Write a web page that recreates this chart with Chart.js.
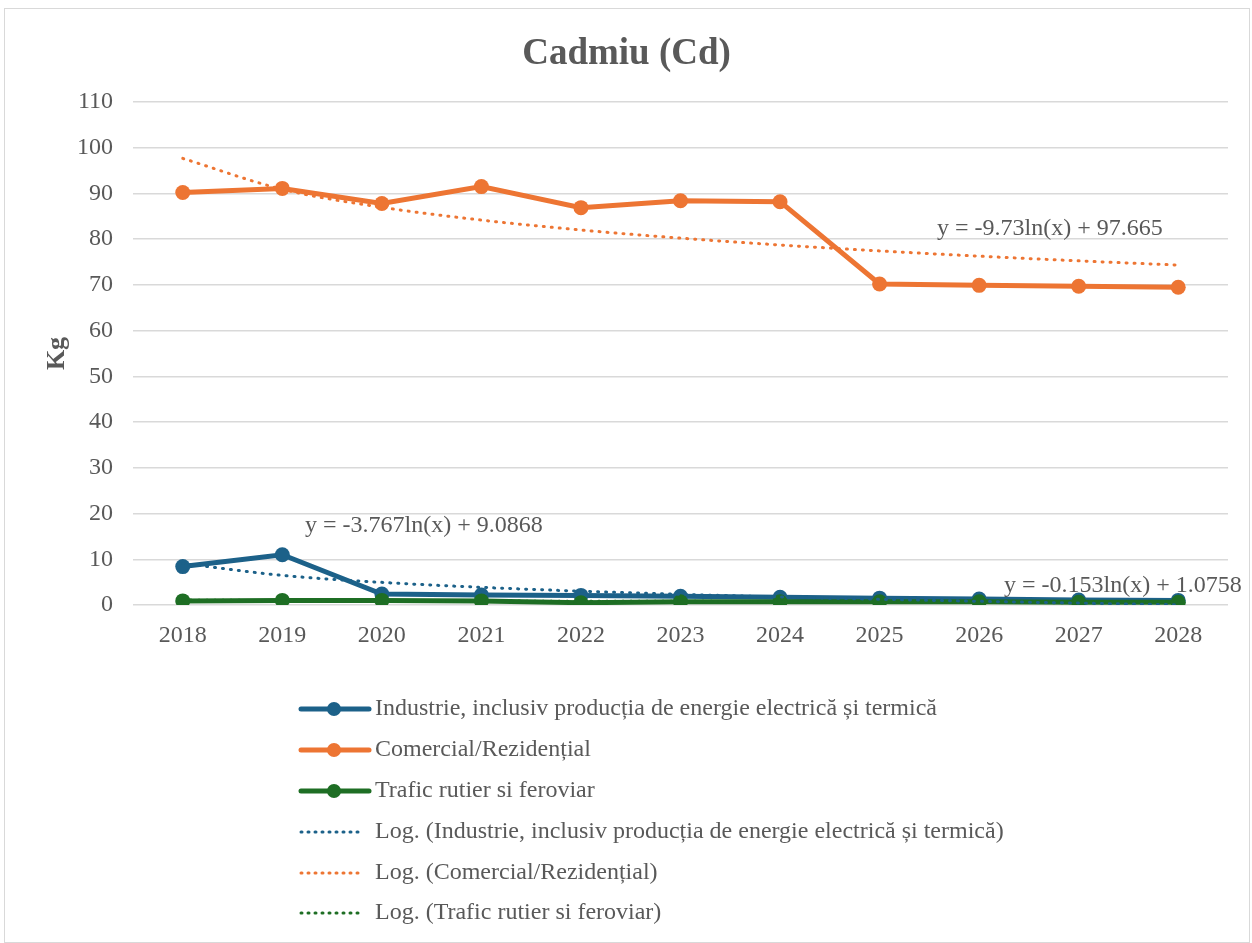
<!DOCTYPE html>
<html>
<head>
<meta charset="utf-8">
<script src="https://cdn.jsdelivr.net/npm/chart.js@4.4.1/dist/chart.umd.min.js"></script>
<style>
  html, body { margin: 0; padding: 0; background: #ffffff; }
  #wrap { position: absolute; left: 4px; top: 8px; width: 1244px; height: 933px; border: 1px solid #d9d9d9; background: #fff; }
  canvas { display: block; }
</style>
</head>
<body>
<div id="wrap"><canvas id="c" width="1244" height="933" style="width:1244px;height:933px"></canvas></div>
<script>
// ---- Data ----
const years = ["2018","2019","2020","2021","2022","2023","2024","2025","2026","2027","2028"];
const industrie = [8.4, 11.0, 2.4, 2.2, 2.1, 1.9, 1.7, 1.5, 1.3, 1.1, 1.0];
const comercial = [90.2, 91.1, 87.8, 91.5, 86.9, 88.4, 88.2, 70.2, 69.9, 69.7, 69.5];
const trafic = [0.9, 1.0, 1.0, 0.9, 0.5, 0.7, 0.7, 0.7, 0.7, 0.6, 0.6];
// logarithmic trendline coefficients shown on the chart: y = a ln(x) + b
const industrieTrendCoef = [-3.767, 9.0868];
const comercialTrendCoef = [-9.73, 97.665];
const traficTrendCoef = [-0.153, 1.0758];
const yTicks = [0, 10, 20, 30, 40, 50, 60, 70, 80, 90, 100, 110];

const labelsText = [
  "Industrie, inclusiv producția de energie electrică și termică",
  "Comercial/Rezidențial",
  "Trafic rutier si feroviar",
  "Log. (Industrie, inclusiv producția de energie electrică și termică)",
  "Log. (Comercial/Rezidențial)",
  "Log. (Trafic rutier si feroviar)"
];
const eqTexts = ["y = -3.767ln(x) + 9.0868", "y = -9.73ln(x) + 97.665", "y = -0.153ln(x) + 1.0758"];

const BLUE = "#1c6189", ORANGE = "#ed7533", GREEN = "#1e6e24", TXT = "#595959";
const FONT = "'Liberation Serif', 'Times New Roman', serif";

function trend(coef) { return years.map((_, i) => coef[0] * Math.log(i + 1) + coef[1]); }

function seriesDs(label, data, color, order) {
  return { label, data, borderColor: color, backgroundColor: color, borderWidth: 5,
    pointRadius: 7.5, pointHoverRadius: 7.5, pointBorderWidth: 0, pointBackgroundColor: color,
    tension: 0, order, isTrend: false };
}
function trendDs(label, data, color) {
  return { label, data, borderColor: color, backgroundColor: color, borderWidth: 3,
    borderDash: [1, 7], borderCapStyle: 'round', pointRadius: 0, cubicInterpolationMode: 'monotone',
    order: 0, isTrend: true };
}

const overlay = {
  id: 'overlay',
  afterDraw(chart) {
    const ctx = chart.ctx;
    ctx.save();
    ctx.fillStyle = TXT;
    ctx.font = "24px " + FONT;
    ctx.textBaseline = 'middle';
    ctx.textAlign = 'left';
    // trendline equations
    ctx.fillText(eqTexts[0], 300, 517);
    ctx.fillText(eqTexts[1], 932, 220);
    ctx.fillText(eqTexts[2], 999, 577);
    // legend
    const x0 = 294, x1 = 364, tx = 370;
    const rows = [700, 741, 782, 823, 864, 904];
    chart.data.datasets.forEach((ds, i) => {
      const y = rows[i];
      ctx.save();
      ctx.strokeStyle = ds.borderColor;
      if (ds.isTrend) {
        ctx.lineWidth = 3; ctx.lineCap = 'round'; ctx.setLineDash([1, 6]);
        ctx.beginPath(); ctx.moveTo(x0 + 2, y); ctx.lineTo(x1 - 6, y); ctx.stroke();
      } else {
        ctx.lineWidth = 5; ctx.lineCap = 'round';
        ctx.beginPath(); ctx.moveTo(x0 + 2, y); ctx.lineTo(x1, y); ctx.stroke();
        ctx.fillStyle = ds.borderColor;
        ctx.beginPath(); ctx.arc(329, y, 7, 0, Math.PI * 2); ctx.fill();
      }
      ctx.restore();
      ctx.fillText(ds.label, tx, y);
    });
    ctx.restore();
  }
};

new Chart(document.getElementById('c'), {
  type: 'line',
  data: {
    labels: years,
    datasets: [
      seriesDs(labelsText[0], industrie, BLUE, 3),
      seriesDs(labelsText[1], comercial, ORANGE, 2),
      seriesDs(labelsText[2], trafic, GREEN, 1),
      trendDs(labelsText[3], trend(industrieTrendCoef), BLUE),
      trendDs(labelsText[4], trend(comercialTrendCoef), ORANGE),
      trendDs(labelsText[5], trend(traficTrendCoef), GREEN)
    ]
  },
  options: {
    responsive: false,
    animation: false,
    layout: { padding: { left: 20, right: 21, top: 0, bottom: 287 } },
    plugins: {
      legend: { display: false },
      tooltip: { enabled: false },
      title: {
        display: true, text: 'Cadmiu (Cd)', color: TXT,
        font: { family: FONT, size: 37, weight: 'bold', lineHeight: 1.2 },
        padding: { top: 23, bottom: 25.6 }
      }
    },
    scales: {
      x: {
        offset: true,
        grid: { display: false, drawTicks: false },
        border: { display: false },
        ticks: { color: TXT, font: { family: FONT, size: 24 }, padding: 16, maxRotation: 0, autoSkip: false },
        afterFit(s) { s.height = 50; }
      },
      y: {
        min: 0, max: 110,
        afterBuildTicks(s) { s.ticks = yTicks.map(v => ({ value: v })); },
        grid: { color: '#d9d9d9', lineWidth: 1.5, drawTicks: false },
        border: { display: false },
        ticks: { color: TXT, font: { family: FONT, size: 24 }, padding: 20 },
        title: { display: true, text: 'Kg', color: TXT, font: { family: FONT, size: 26, weight: 'bold' }, padding: { top: 17, bottom: 0 } },
        afterFit(s) { s.width = 108; }
      }
    }
  },
  plugins: [overlay]
});
</script>
</body>
</html>
